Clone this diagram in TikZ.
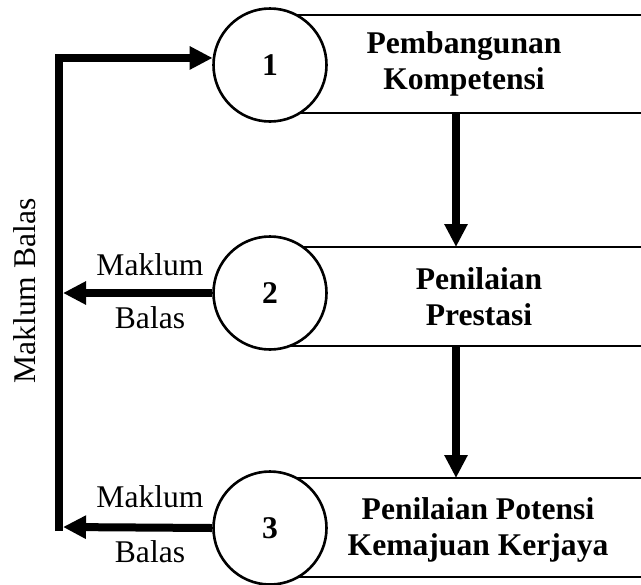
\documentclass[tikz,border=0pt]{standalone}
\usepackage{fontspec}
\setmainfont{Liberation Serif}
\usetikzlibrary{arrows.meta}

\begin{document}
\begin{tikzpicture}[x=0.5pt, y=-0.5pt, line join=miter, >={Triangle[length=11.5pt,width=11pt]},
	font=\fontsize{15.8}{18}\selectfont,
	proses/.style={circle, draw, line width=1.3pt, fill=white, minimum size=56.5pt, inner sep=0pt, font=\fontsize{15.8}{18}\selectfont\bfseries},
	kotak/.style={line width=1.3pt},
	tajuk/.style={align=center, font=\fontsize{15.8}{18}\selectfont\bfseries},
	aliran/.style={line width=4.3pt, ->},
	balas/.style={line width=4pt, ->}]
	\useasboundingbox (0,0) rectangle (641,584);
	% kotak terbuka di kanan
	\foreach \t/\b in {15/113, 247/346, 478/577}
	\draw[kotak] (270,\t) -- (641,\t) (270,\b) -- (641,\b);
	\node[proses] (c1) at (270,65) {1};
	\node[proses] (c2) at (270,293) {2};
	\node[proses] (c3) at (270,528) {3};
	\node[tajuk] (b1) at (464,64) {Pembangunan\\Kompetensi};
	\node[tajuk] (b2) at (479,297) {Penilaian\\Prestasi};
	\node[tajuk] (b3) at (478,530) {Penilaian Potensi\\Kemajuan Kerjaya};
	\path
	(456,113) coordinate (k1)
	(456,247) coordinate (k2)
	(456,346) coordinate (k3)
	(456,478) coordinate (k4)
	(63,293) coordinate (m2)
	(63,527) coordinate (m3)
	(59,531) coordinate (bawah);
	\draw[aliran] (k1) -- (k2);
	\draw[aliran] (k3) -- (k4);
	% maklum balas
	\draw[balas] (bawah) |- (c1.173);
	\draw[balas] (c2.west) -- (m2);
	\draw[balas] (c3.west) -- (m3);
	\foreach \x/\g in {m2/275, m3/507}
	\node[anchor=base] (\x a) at (150,\g) {Maklum};
	\foreach \x/\g in {m2/328, m3/562}
	\node[anchor=base] (\x b) at (150,\g) {Balas};
	\node[rotate=90, anchor=base] (mb) at (35,291) {Maklum Balas};
\end{tikzpicture}
\end{document}
